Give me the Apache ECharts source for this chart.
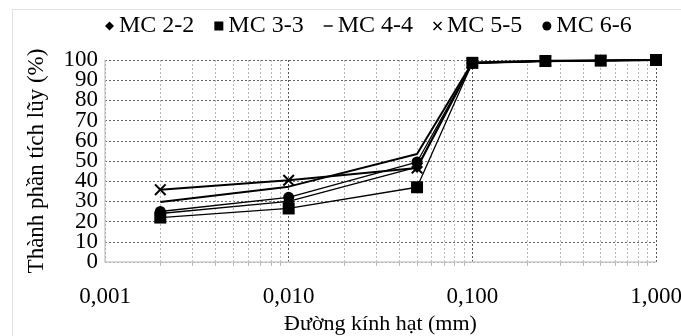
<!DOCTYPE html>
<html>
<head>
<meta charset="utf-8">
<script src="https://cdn.jsdelivr.net/npm/echarts@6/dist/echarts.min.js"></script>
<style>html,body{margin:0;padding:0;background:#fff}#c{width:681px;height:336px}</style>
</head>
<body>
<div id="c"></div>
<script>
// Particle diameter (mm)
const diameters = [0.002, 0.01, 0.05, 0.1, 0.25, 0.5, 1.0];
const seriesNames = ['MC 2-2', 'MC 3-3', 'MC 4-4', 'MC 5-5', 'MC 6-6'];
const mc22 = [24.0, 30.0, 47.0, 98.5, 99.5, 99.7, 100];
const mc33 = [22.0, 26.5, 37.0, 98.6, 99.5, 99.7, 100];
const mc44 = [29.7, 37.3, 53.5, 98.8, 99.6, 99.8, 100];
const mc55 = [35.8, 40.5, 46.5, 98.5, 99.4, 99.7, 100];
const mc66 = [25.0, 32.0, 49.5, 98.3, 99.5, 99.7, 100];
const xTickLabels = ['0,001', '0,010', '0,100', '1,000'];
const yTicks = [0, 10, 20, 30, 40, 50, 60, 70, 80, 90, 100];

const FONT = '"Liberation Serif", "Times New Roman", serif';
const xPath = 'path://M0,1.2L1.2,0L5,3.8L8.8,0L10,1.2L6.2,5L10,8.8L8.8,10L5,6.2L1.2,10L0,8.8L3.8,5Z';
const dashPath = 'path://M0,0H10V1.6H0Z';

function pts(arr) { return diameters.map((d, i) => [d, arr[i]]); }

const chart = echarts.init(document.getElementById('c'), null, {renderer: 'canvas'});
const baseSeries = (name, data, symbol, size, width, z) => ({
  name, type: 'line', data: pts(data), symbol, symbolSize: size, z,
  showSymbol: symbol !== 'none',
  lineStyle: {color: '#000', width}, itemStyle: {color: '#000'},
  emphasis: {disabled: true}, animation: false
});

const yMin = yTicks[0], yMax = yTicks[yTicks.length - 1];
const yLabelStyle = {fontFamily: FONT, fontSize: 23, color: '#000', margin: 7,
  showMinLabel: true, showMaxLabel: true, hideOverlap: false};

const option = {
  backgroundColor: '#fff',
  animation: false,
  graphic: [{type: 'rect', shape: {x: 12.5, y: 9.5, width: 700, height: 400},
    style: {fill: 'none', stroke: '#e2e2e2', lineWidth: 1}, silent: true}],
  legend: {
    left: 100, top: 9, itemWidth: 9, itemHeight: 9, itemGap: 20,
    textStyle: {fontFamily: FONT, fontSize: 24, color: '#000'},
    data: [
      {name: 'MC 2-2', icon: 'diamond'},
      {name: 'MC 3-3', icon: 'rect'},
      {name: 'MC 4-4', icon: dashPath},
      {name: 'MC 5-5', icon: xPath},
      {name: 'MC 6-6', icon: 'circle'}
    ],
    selectedMode: false
  },
  grid: {left: 105, right: 25, top: 60, bottom: 74, containLabel: false, outerBoundsMode: 'none'},
  xAxis: {
    type: 'log', logBase: 10, min: 0.001, max: 1,
    name: 'Đường kính hạt (mm)', nameLocation: 'middle', nameGap: 49,
    nameTextStyle: {fontFamily: FONT, fontSize: 22, color: '#000'},
    axisLine: {show: true, lineStyle: {color: '#cfcfcf', width: 1.5}},
    axisTick: {show: false},
    minorTick: {show: true, splitNumber: 9, length: 4, lineStyle: {color: '#bbb'}},
    minorSplitLine: {show: true, lineStyle: {color: '#b8b8b8', type: [2, 2], width: 1}},
    axisLabel: {fontFamily: FONT, fontSize: 23, color: '#000', margin: 23,
      showMinLabel: true, showMaxLabel: true, hideOverlap: false,
      formatter: (v, i) => xTickLabels[i] !== undefined ? xTickLabels[i] : ''},
    splitLine: {show: true, lineStyle: {color: '#555', type: [2, 2], width: 1}}
  },
  yAxis: [{
    type: 'value', min: yMin, max: yMax, interval: 10,
    name: 'Thành phần tích lũy (%)', nameLocation: 'middle', nameGap: 57, nameRotate: 90,
    nameTextStyle: {fontFamily: FONT, fontSize: 23, color: '#000'},
    axisLine: {show: true, lineStyle: {color: '#cfcfcf', width: 1.5}},
    axisTick: {show: false},
    axisLabel: Object.assign({}, yLabelStyle, {
      formatter: v => (v !== yMin && v !== yMax && yTicks.includes(v)) ? String(v) : ''}),
    splitLine: {show: true, lineStyle: {color: '#666', type: [2, 2], width: 1}}
  }, {
    type: 'value', min: yMin, max: yMax, interval: 10, position: 'left', offset: 0,
    axisLine: {show: false}, axisTick: {show: false}, splitLine: {show: false},
    axisLabel: Object.assign({}, yLabelStyle, {
      formatter: v => (v === yMin || v === yMax) ? String(v) : ''})
  }],
  series: [
    baseSeries(seriesNames[0], mc22, 'diamond', 12, 1.3, 2),
    baseSeries(seriesNames[1], mc33, 'rect', 12, 1.3, 6),
    baseSeries(seriesNames[2], mc44, 'none', 0, 2, 3),
    baseSeries(seriesNames[3], mc55, xPath, 12, 2, 4),
    baseSeries(seriesNames[4], mc66, 'circle', 11, 1.3, 5)
  ]
};
chart.setOption(option);
</script>
</body>
</html>
